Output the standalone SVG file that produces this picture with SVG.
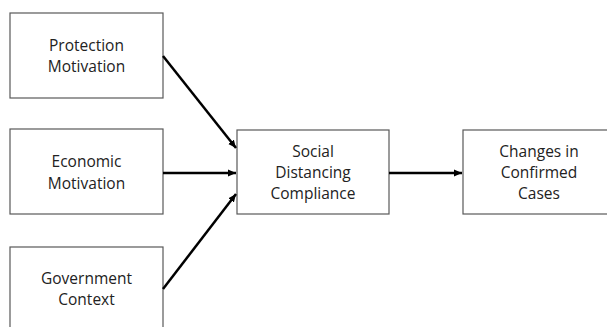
<svg xmlns="http://www.w3.org/2000/svg" width="607" height="327" viewBox="0 0 607 327">
<defs>
<marker id="ah" markerWidth="10" markerHeight="10" refX="8" refY="5" orient="auto" markerUnits="userSpaceOnUse">
<path d="M0,1.5 L8,5 L0,8.5 Z" fill="#000"/>
</marker>
<style>
.box{fill:#fff;stroke:#595959;stroke-width:1.2}
.t{font-family:"Open Sans","Liberation Sans",sans-serif;font-size:15.5px;fill:#222;text-anchor:middle}
.c{stroke:#000;stroke-width:2.5;fill:none;marker-end:url(#ah)}
</style>
</defs>
<rect width="607" height="327" fill="#fff"/>
<g id="protection">
<rect class="box" x="10" y="13" width="153" height="85"/>
<text class="t" x="86.5" y="51">Protection</text>
<text class="t" x="86.5" y="72">Motivation</text>
</g>
<g id="economic">
<rect class="box" x="10" y="129" width="153" height="85"/>
<text class="t" x="86.5" y="167">Economic</text>
<text class="t" x="86.5" y="189">Motivation</text>
</g>
<g id="government">
<rect class="box" x="10" y="247" width="153" height="90"/>
<text class="t" x="86.5" y="284">Government</text>
<text class="t" x="86.5" y="305">Context</text>
</g>
<g id="social">
<rect class="box" x="237" y="130" width="152" height="84"/>
<text class="t" x="313" y="157">Social</text>
<text class="t" x="313" y="178">Distancing</text>
<text class="t" x="313" y="199">Compliance</text>
</g>
<g id="changes">
<rect class="box" x="463" y="130" width="152" height="84"/>
<text class="t" x="539" y="157">Changes in</text>
<text class="t" x="539" y="178">Confirmed</text>
<text class="t" x="539" y="199">Cases</text>
</g>
<g id="connectors">
<line class="c" x1="163" y1="56" x2="236" y2="148"/>
<line class="c" x1="163" y1="173" x2="236" y2="173"/>
<line class="c" x1="163" y1="289" x2="236" y2="194"/>
<line class="c" x1="389" y1="173" x2="462" y2="173"/>
</g>
</svg>
